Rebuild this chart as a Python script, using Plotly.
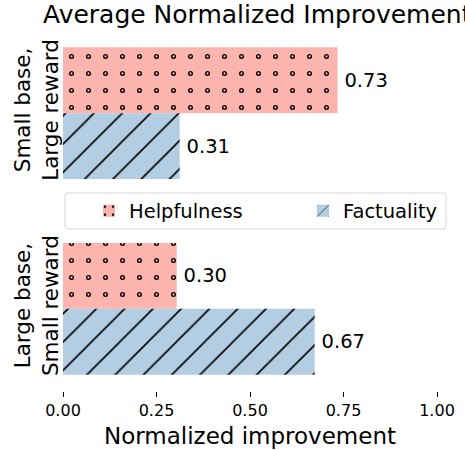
import plotly.graph_objects as go

categories = ["Small base,<br>Large reward", "Large base,<br>Small reward"]
helpfulness = [0.734, 0.304]
factuality = [0.312, 0.673]
x_ticks = [0.0, 0.25, 0.5, 0.75, 1.0]

PINK = "#FBB4AE"
BLUE = "#B3CDE3"
FONT = "DejaVu Sans"
W, H = 465, 450
ML, MR, MT, MB = 63, 28, 31, 59
PW, PH = W - ML - MR, H - MT - MB


def px_x(p):
    return (p - ML) / PW


def px_y(p):
    return (H - MB - p) / PH


fig = go.Figure()

# Helpfulness: pink bars with black rings
fig.add_trace(go.Bar(
    y=categories, x=helpfulness, orientation="h", name="Helpfulness",
    offsetgroup="h", legend="legend",
    marker=dict(color=PINK, line=dict(width=0),
                pattern=dict(shape=".", size=17, solidity=0.068,
                             fgcolor="black", bgcolor=PINK, fillmode="replace")),
    texttemplate="\u2009%{x:.2f}", textposition="outside", cliponaxis=False,
    constraintext="none",
    textfont=dict(family=FONT, size=19.5, color="black"),
))
# hollow centres of the rings
fig.add_trace(go.Bar(
    y=categories, x=helpfulness, orientation="h", name="Helpfulness",
    offsetgroup="h", showlegend=False, hoverinfo="skip",
    marker=dict(color="rgba(0,0,0,0)", line=dict(width=0),
                pattern=dict(shape=".", size=17, solidity=0.014,
                             fgcolor=PINK, bgcolor="rgba(0,0,0,0)", fillmode="replace")),
))
# Factuality: blue bars with diagonal hatch
fig.add_trace(go.Bar(
    y=categories, x=factuality, orientation="h", name="Factuality",
    offsetgroup="f", legend="legend2",
    marker=dict(color=BLUE, line=dict(width=0),
                pattern=dict(shape="/", size=20, solidity=0.08,
                             fgcolor="black", bgcolor=BLUE, fillmode="replace")),
    texttemplate="\u2009%{x:.2f}", textposition="outside", cliponaxis=False,
    constraintext="none",
    textfont=dict(family=FONT, size=19.5, color="black"),
))

# legend frame (one box around both legend entries)
x0, x1 = px_x(65), px_x(446)
y0, y1 = px_y(229), px_y(193)
rx, ry = 3 / PW, 3 / PH
frame = (f"M{x0+rx},{y0} L{x1-rx},{y0} Q{x1},{y0} {x1},{y0+ry} L{x1},{y1-ry} "
         f"Q{x1},{y1} {x1-rx},{y1} L{x0+rx},{y1} Q{x0},{y1} {x0},{y1-ry} "
         f"L{x0},{y0+ry} Q{x0},{y0} {x0+rx},{y0} Z")

legend_common = dict(orientation="h", yanchor="middle", y=px_y(211), xanchor="left",
                     bgcolor="rgba(0,0,0,0)", borderwidth=0,
                     font=dict(family=FONT, size=19.5, color="black"))

fig.update_layout(
    width=W, height=H,
    margin=dict(l=ML, r=MR, t=MT, b=MB, autoexpand=False),
    plot_bgcolor="white", paper_bgcolor="white",
    barmode="group", bargap=0.327, bargroupgap=0,
    font=dict(family=FONT, color="black"),
    title=dict(text="Average Normalized Improvement", x=43 / W, xanchor="left",
               xref="container", y=1 - 14 / H, yanchor="middle",
               font=dict(family=FONT, size=25, color="black")),
    legend=dict(x=px_x(89), **legend_common),
    legend2=dict(x=px_x(303), **legend_common),
    showlegend=True,
    shapes=[dict(type="path", path=frame, xref="paper", yref="paper",
                 line=dict(color="#d6d6d6", width=1), fillcolor="white", layer="below")],
)
fig.update_xaxes(range=[0, 1], tickvals=x_ticks, tickformat=".2f",
                 showgrid=False, zeroline=False, showline=False,
                 ticks="outside", ticklen=5, tickwidth=1, tickcolor="black",
                 tickfont=dict(family=FONT, size=16, color="black"),
                 title=dict(text="Normalized improvement", standoff=8,
                            font=dict(family=FONT, size=23, color="black")))
fig.update_yaxes(range=[1.42, -0.42], showgrid=False, zeroline=False, showline=False,
                 ticks="", tickangle=-90,
                 tickfont=dict(family=FONT, size=21.5, color="black"))

fig.write_html("out.html", config={"displayModeBar": False},
               post_script="document.body.style.margin='0';")
